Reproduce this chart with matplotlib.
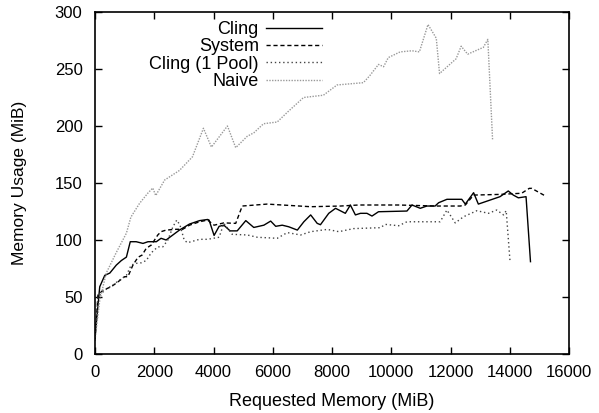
import matplotlib
matplotlib.use("Agg")
import matplotlib.pyplot as plt

# Cling (solid)
cling_x = [0, 160, 330, 500, 720, 890, 1060, 1190, 1390, 1620, 1790, 2070, 2230, 2400,
           2850, 3190, 3530, 3800, 3850, 4020, 4190, 4350, 4560, 4800, 5090, 5360, 5700,
           5930, 6100, 6320, 6540, 6830, 7050, 7280, 7500, 7610, 7890, 8120, 8450, 8620,
           8790, 8960, 9180, 9350, 9570, 10530, 10700, 10980, 11200, 11480, 11600, 11880,
           12270, 12380, 12500, 12780, 12940, 13670, 13950, 14120, 14290, 14550, 14700]
cling_y = [15, 59, 69, 71, 78, 82, 85, 98.5, 98.5, 97, 98.5, 98.5, 101.5, 100,
           108.7, 114, 117, 118, 117.5, 104, 112, 113, 108, 108, 117, 111, 113,
           116.6, 112, 113, 111.6, 108.7, 116, 122, 114.6, 113.4, 123.4, 127.8, 123.4, 130.7,
           122, 123.4, 123.4, 121, 124.8, 125.4, 130.7, 127.8, 129.8, 129.8, 132.7, 135.7,
           135.7, 135.7, 131.5, 141.5, 131.5, 138, 143, 139.4, 137, 138, 81]

# System (dashed)
system_x = [0, 100, 270, 550, 780, 1000, 1110, 1280, 1450, 1590, 1730, 1900, 2120, 2230,
            2400, 2740, 2960, 3190, 3530, 3800, 4020, 4350, 4750, 4970, 5810, 7280, 8290,
            8900, 10250, 11500, 12330, 12500, 12780, 13670, 14400, 14660, 14740, 15190]
system_y = [12, 51.7, 56, 59, 63.4, 67.8, 67.8, 78, 84.8, 86.8, 92.7, 95.6, 104.4, 107.3,
            108.7, 109.4, 109.4, 113, 116, 117.5, 113, 115, 114.6, 129.8, 131.5, 129.2, 129.8,
            130.7, 130.7, 129.8, 129.8, 130.7, 139.4, 140, 141, 145.3, 145.3, 138.8]

# Cling (1 Pool) (dotted)
pool_x = [0, 100, 330, 600, 890, 1060, 1220, 1390, 1560, 1730, 1900, 2120, 2290, 2460,
          2630, 2760, 2870, 3010, 3120, 3530, 3800, 4190, 4350, 4630, 5140, 5480, 6150,
          6490, 6940, 7280, 7840, 8230, 8730, 9630, 9800, 10250, 10530, 11650, 11880,
          12160, 12440, 12890, 13280, 13560, 13790, 13880, 14010]
pool_y = [12, 50, 56, 60.5, 66, 69, 78, 79.5, 80, 82, 88.8, 94, 94, 100,
          111.6, 117.5, 113, 100, 97.6, 100.6, 100.6, 102.4, 114.6, 105, 104.4, 102.4, 101.5,
          106.5, 104.4, 107.3, 109.3, 107.3, 110, 110.8, 113.7, 112.5, 116, 116, 126.3,
          115, 120.4, 125.7, 123.4, 126.3, 122, 125.7, 81]

# Naive (light dotted)
naive_x = [0, 160, 380, 710, 1060, 1210, 1500, 1780, 1950, 2050, 2350, 2850, 3290, 3660,
           3930, 4470, 4750, 5140, 5360, 5690, 6150, 6490, 7040, 7710, 8170, 9060, 9270,
           9570, 9740, 9900, 10300, 10700, 10950, 11240, 11520, 11630, 12190, 12360, 12580,
           13110, 13260, 13420]
naive_y = [12, 47, 71, 88.6, 106, 120, 132, 141, 145.6, 139, 152.6, 161, 173, 198,
           181.5, 200, 181, 191, 194, 202, 203.5, 212, 225, 227, 236, 238, 244,
           254, 252, 260, 265, 266, 265, 289, 277, 246, 259, 270, 263,
           269, 276, 188]

plt.rcParams["font.family"] = ["Liberation Sans", "DejaVu Sans"]
plt.rcParams["font.size"] = 12

fig = plt.figure(figsize=(5.99, 4.13), dpi=100)
ax = fig.add_axes([95 / 599, 1 - 354 / 413, 474 / 599, 342 / 413])

ax.plot(cling_x, cling_y, "-", color="black", lw=1.0, label="Cling")
ax.plot(system_x, system_y, color="black", lw=1.0, dashes=(3, 2), label="System")
ax.plot(pool_x, pool_y, color="#444444", lw=1.0, dashes=(1, 2), label="Cling (1 Pool)")
ax.plot(naive_x, naive_y, color="#999999", lw=1.0, dashes=(1, 1), label="Naive")

ax.set_xlim(0, 16000)
ax.set_ylim(0, 300)
ax.set_xticks(range(0, 16001, 2000))
ax.set_yticks(range(0, 301, 50))
ax.tick_params(direction="in", top=True, right=True, length=5, width=1, labelsize=12)
ax.tick_params(axis="x", pad=8)
ax.tick_params(axis="y", pad=9)
for s in ax.spines.values():
    s.set_linewidth(1.2)
ax.set_xlabel("Requested Memory (MiB)", fontsize=13, va="center")
ax.set_ylabel("Memory Usage (MiB)", fontsize=12.5, va="center")
ax.xaxis.set_label_coords(0.5, (354 - 401) / 342)
ax.yaxis.set_label_coords((19.5 - 95) / 474, 0.5)

ax.legend(loc="upper right", bbox_to_anchor=(322 / 599, 1 - 21 / 413),
          bbox_transform=fig.transFigure, frameon=False, markerfirst=False,
          fontsize=13, handlelength=3.1, labelspacing=0.02, borderpad=0,
          borderaxespad=0, handletextpad=0.4)

fig.savefig("out.png", dpi=100)
